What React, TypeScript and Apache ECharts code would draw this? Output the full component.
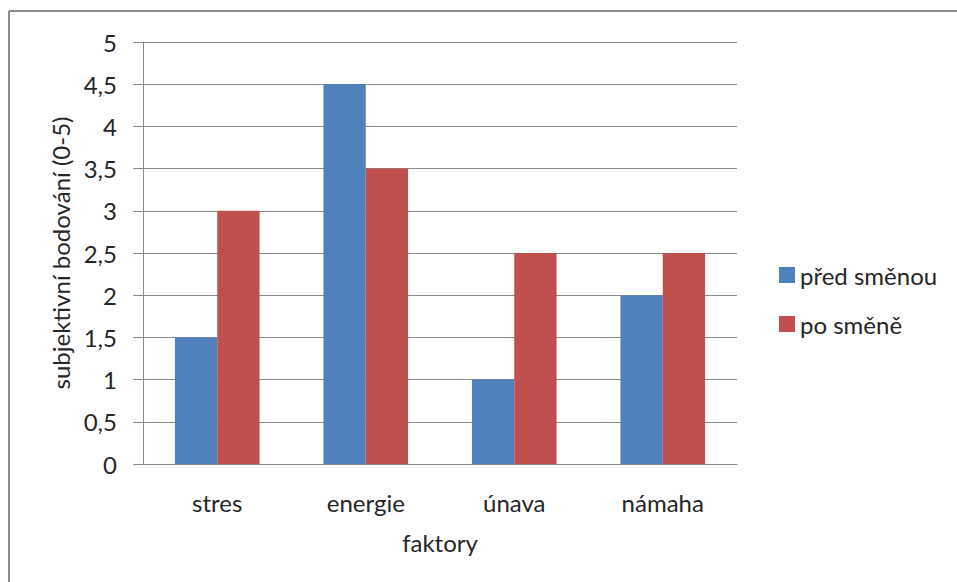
import React, { useEffect, useRef } from "react";
import * as echarts from "echarts";

const categories = ["stres", "energie", "únava", "námaha"];
const predSmenou = [1.5, 4.5, 1, 2];
const poSmene = [3, 3.5, 2.5, 2.5];
const seriesNames = ["před směnou", "po směně"];
const yAxisTitle = "subjektivní bodování (0-5)";
const xAxisTitle = "faktory";

const FONT = "Lato";
const FS = 24;
const TEXT = "#262626";
const GRID = "#8a8a8a";

export default function App() {
  const ref = useRef<HTMLDivElement>(null);
  useEffect(() => {
    if (!ref.current) return;
    const chart = echarts.init(ref.current, undefined, { renderer: "svg" });
    chart.setOption({
      animation: false,
      backgroundColor: "#ffffff",
      textStyle: { fontFamily: FONT, color: TEXT },
      graphic: [
        { type: "line", shape: { x1: 9, y1: 11, x2: 957, y2: 11 }, style: { stroke: GRID, lineWidth: 2 } },
        { type: "line", shape: { x1: 9, y1: 11, x2: 9, y2: 582 }, style: { stroke: GRID, lineWidth: 2 } },
      ],
      legend: {
        orient: "vertical",
        left: 774,
        top: 258,
        itemWidth: 16,
        itemHeight: 16,
        itemGap: 25,
        icon: "rect",
        data: seriesNames,
        textStyle: { fontFamily: FONT, fontSize: FS, lineHeight: 24, color: TEXT },
      },
      grid: { left: 143, right: 220, top: 42, bottom: 118, containLabel: false },
      xAxis: {
        type: "category",
        data: categories,
        name: xAxisTitle,
        nameLocation: "middle",
        nameGap: 66,
        nameTextStyle: { fontFamily: FONT, fontSize: FS, color: TEXT },
        axisLine: { show: true, lineStyle: { color: GRID, width: 1 } },
        axisTick: { show: false },
        axisLabel: { fontFamily: FONT, fontSize: FS, color: TEXT, margin: 26 },
      },
      yAxis: {
        type: "value",
        min: 0,
        max: 5,
        interval: 0.5,
        name: yAxisTitle,
        nameLocation: "middle",
        nameGap: 69,
        nameRotate: 90,
        nameTextStyle: { fontFamily: FONT, fontSize: FS, color: TEXT },
        axisLine: { show: true, lineStyle: { color: GRID, width: 1 } },
        axisTick: { show: true, length: 10, inside: false, lineStyle: { color: GRID } },
        axisLabel: {
          fontFamily: FONT,
          fontSize: FS,
          color: TEXT,
          margin: 26,
          formatter: (v: number) => String(v).replace(".", ","),
        },
        splitLine: { show: true, lineStyle: { color: GRID, width: 1 } },
      },
      series: [
        {
          name: seriesNames[0],
          type: "bar",
          data: predSmenou,
          barGap: "0%",
          barCategoryGap: "43%",
          itemStyle: { color: "#4F81BD" },
        },
        {
          name: seriesNames[1],
          type: "bar",
          data: poSmene,
          barGap: "0%",
          barCategoryGap: "43%",
          itemStyle: { color: "#C0504D" },
        },
      ],
    });
    return () => chart.dispose();
  }, []);
  return (
    <div
      ref={ref}
      style={{ position: "absolute", left: 0, top: 0, width: 957, height: 582 }}
    />
  );
}
